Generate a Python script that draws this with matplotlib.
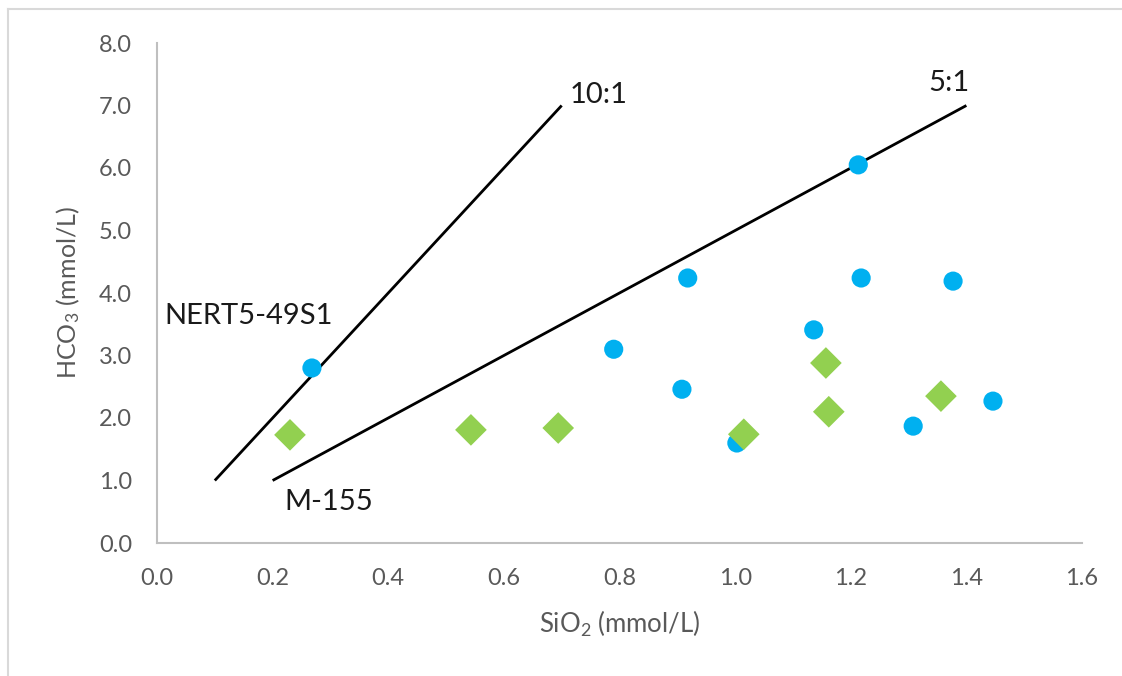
import matplotlib
matplotlib.use("Agg")
import matplotlib.pyplot as plt
from matplotlib.lines import Line2D

# Data
blue_x = [0.268, 0.790, 0.908, 0.918, 1.003, 1.136, 1.213, 1.218, 1.308, 1.377, 1.446]
blue_y = [2.80, 3.10, 2.46, 4.24, 1.60, 3.41, 6.05, 4.24, 1.87, 4.19, 2.27]
green_x = [0.230, 0.543, 0.694, 1.015, 1.157, 1.162, 1.356]
green_y = [1.73, 1.81, 1.84, 1.74, 2.88, 2.10, 2.35]
line10_x = [0.1, 0.7]
line10_y = [1.0, 7.0]
line5_x = [0.2, 1.4]
line5_y = [1.0, 7.0]
x_ticks = [0.0, 0.2, 0.4, 0.6, 0.8, 1.0, 1.2, 1.4, 1.6]
y_ticks = [0.0, 1.0, 2.0, 3.0, 4.0, 5.0, 6.0, 7.0, 8.0]

plt.rcParams['font.family'] = ['Lato', 'DejaVu Sans']
plt.rcParams['mathtext.fontset'] = 'custom'
plt.rcParams['mathtext.rm'] = 'Lato'
plt.rcParams['mathtext.it'] = 'Lato'

fig = plt.figure(figsize=(11.22, 6.76), dpi=100)
ax = fig.add_axes([157/1122, 1-543/676, (1082-157)/1122, (543-43)/676])

ax.plot(line10_x, line10_y, color='black', lw=2, solid_capstyle='butt', zorder=2)
ax.plot(line5_x, line5_y, color='black', lw=2, solid_capstyle='butt', zorder=2)
ax.scatter(blue_x, blue_y, s=190, marker='o', color='#00B0F0', edgecolors='none', zorder=3)
ax.scatter(green_x, green_y, s=260, marker='D', color='#92D050', edgecolors='none', zorder=4)

ax.text(0.714, 7.17, '10:1', fontsize=21, va='center', ha='left', color='#1a1a1a')
ax.text(1.335, 7.36, '5:1', fontsize=21, va='center', ha='left', color='#1a1a1a')
ax.text(0.012, 3.63, 'NERT5-49S1', fontsize=21, va='center', ha='left', color='#1a1a1a')
ax.text(0.221, 0.66, 'M-155', fontsize=21, va='center', ha='left', color='#1a1a1a')

ax.set_xlim(0, 1.6)
ax.set_ylim(0, 8)
ax.set_xticks(x_ticks)
ax.set_xticklabels([f'{v:.1f}' for v in x_ticks])
ax.set_yticks(y_ticks)
ax.set_yticklabels([f'{v:.1f}' for v in y_ticks])
ax.tick_params(axis='x', length=0, labelsize=17, colors='#595959', pad=18)
ax.tick_params(axis='y', length=0, labelsize=17, colors='#595959', pad=18)
for s in ['top', 'right']:
    ax.spines[s].set_visible(False)
for s in ['left', 'bottom']:
    ax.spines[s].set_color('#bfbfbf')
    ax.spines[s].set_linewidth(1.5)

ax.set_xlabel('SiO$_2$ (mmol/L)', fontsize=18.5, color='#595959', labelpad=14)
ax.set_ylabel('HCO$_3$ (mmol/L)', fontsize=18, color='#595959', labelpad=12)

# chart frame
fig.add_artist(Line2D([8/1122, 1.0], [1-9/676, 1-9/676], transform=fig.transFigure, color='#d9d9d9', lw=1.5))
fig.add_artist(Line2D([8/1122, 8/1122], [0, 1-9/676], transform=fig.transFigure, color='#d9d9d9', lw=1.5))

fig.savefig('out.png', dpi=100, facecolor='white')
